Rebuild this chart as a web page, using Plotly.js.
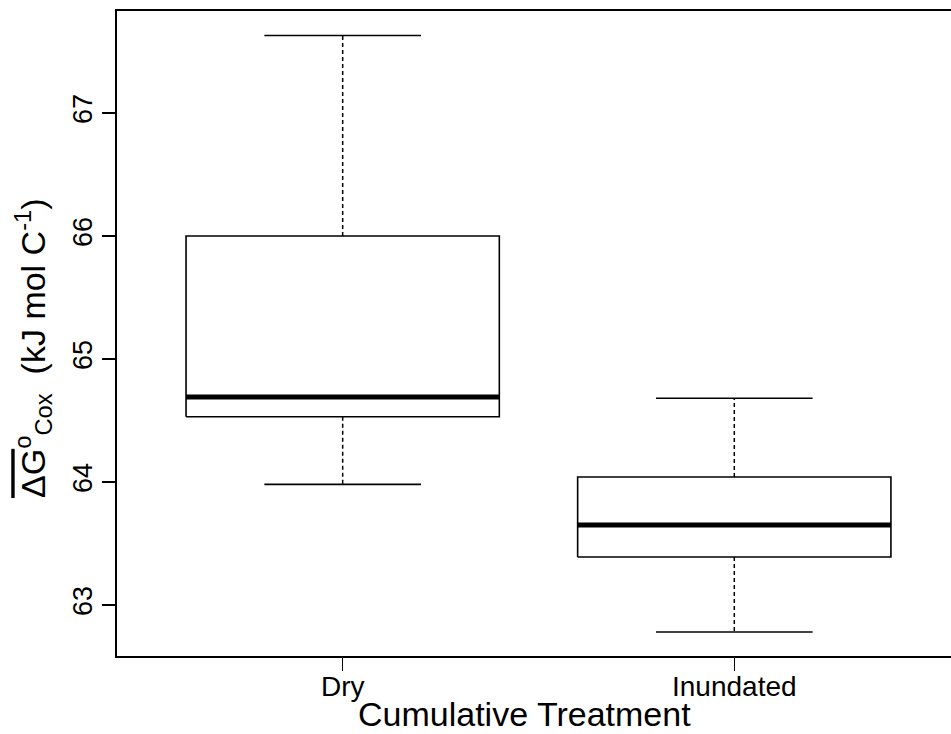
<!DOCTYPE html>
<html>
<head>
<meta charset="utf-8">
<script src="https://cdn.plot.ly/plotly-3.0.1.min.js"></script>
<style>
  html, body { margin: 0; padding: 0; background: #fff; overflow: hidden; }
  #chart { width: 951px; height: 734px; }
</style>
</head>
<body>
<div id="chart"></div>
<script>
// Five-number summaries per treatment group
const categories  = ['Dry', 'Inundated'];
const whiskerLow  = [63.98, 62.78];
const quartile1   = [64.53, 63.39];
const medians     = [64.69, 63.65];
const quartile3   = [66.00, 64.04];
const whiskerHigh = [67.63, 64.68];
const yTicks      = [63, 64, 65, 66, 67];

const xTitle = 'Cumulative Treatment';
const yTitle = "<span style='text-decoration:overline'>ΔG</span><sup>o</sup><sub>Cox</sub>  (kJ mol C<sup>-1</sup>)";

const boxWidth = 0.8;     // full box width in category units
const capWidth = 0.4;     // whisker staple width
const ink = '#000000';

const traces = [];
categories.forEach((cat, i) => {
  const xc = i + 1;
  const hb = boxWidth / 2, hc = capWidth / 2;

  // dashed whiskers
  traces.push({
    type: 'scatter', mode: 'lines', hoverinfo: 'skip', showlegend: false,
    x: [xc, xc, null, xc, xc],
    y: [quartile3[i], whiskerHigh[i], null, quartile1[i], whiskerLow[i]],
    line: { color: ink, width: 1.5, dash: '4px,3px' }
  });
  // whisker staples
  traces.push({
    type: 'scatter', mode: 'lines', hoverinfo: 'skip', showlegend: false,
    x: [xc - hc, xc + hc, null, xc - hc, xc + hc],
    y: [whiskerHigh[i], whiskerHigh[i], null, whiskerLow[i], whiskerLow[i]],
    line: { color: ink, width: 1.6 }
  });
  // box body
  traces.push({
    type: 'scatter', mode: 'lines', hoverinfo: 'skip', showlegend: false,
    x: [xc - hb, xc + hb, xc + hb, xc - hb, xc - hb],
    y: [quartile1[i], quartile1[i], quartile3[i], quartile3[i], quartile1[i]],
    fill: 'toself', fillcolor: '#ffffff',
    line: { color: ink, width: 1.6 }
  });
  // median bar
  traces.push({
    type: 'scatter', mode: 'lines', hoverinfo: 'skip', showlegend: false,
    x: [xc - hb, xc + hb],
    y: [medians[i], medians[i]],
    line: { color: ink, width: 5 }
  });
});

const font = "'Liberation Sans', Arial, sans-serif";

const layout = {
  width: 951, height: 734,
  margin: { l: 117, r: 0, t: 11, b: 78, pad: 0 },
  paper_bgcolor: '#ffffff', plot_bgcolor: '#ffffff',
  font: { family: font, color: ink },
  showlegend: false,
  xaxis: {
    range: [0.4237, 2.5534],
    tickvals: [1, 2], ticktext: categories,
    showgrid: false, zeroline: false,
    showline: true, linecolor: ink, linewidth: 1.6, mirror: true,
    ticks: 'outside', ticklen: 13, tickwidth: 1.5, tickcolor: ink,
    ticklabelstandoff: -8,
    tickfont: { size: 28, family: font, color: ink }
  },
  yaxis: {
    range: [62.585, 67.829],
    tickvals: yTicks, ticktext: yTicks.map(String),
    tickangle: -90,
    showgrid: false, zeroline: false,
    showline: true, linecolor: ink, linewidth: 1.6, mirror: false,
    ticks: 'outside', ticklen: 13, tickwidth: 1.5, tickcolor: ink,
    tickfont: { size: 27, family: font, color: ink }
  },
  annotations: [
    {
      text: xTitle, showarrow: false,
      xref: 'paper', yref: 'paper', x: 0.4892, y: -0.0905,
      xanchor: 'center', yanchor: 'middle',
      font: { size: 34, family: font, color: ink }
    },
    {
      text: yTitle, showarrow: false, textangle: -90,
      xref: 'paper', yref: 'paper', x: -0.1007, y: 0.4775,
      xanchor: 'center', yanchor: 'middle',
      font: { size: 34, family: font, color: ink }
    }
  ]
};

Plotly.newPlot('chart', traces, layout, { staticPlot: true, displayModeBar: false });
</script>
</body>
</html>
